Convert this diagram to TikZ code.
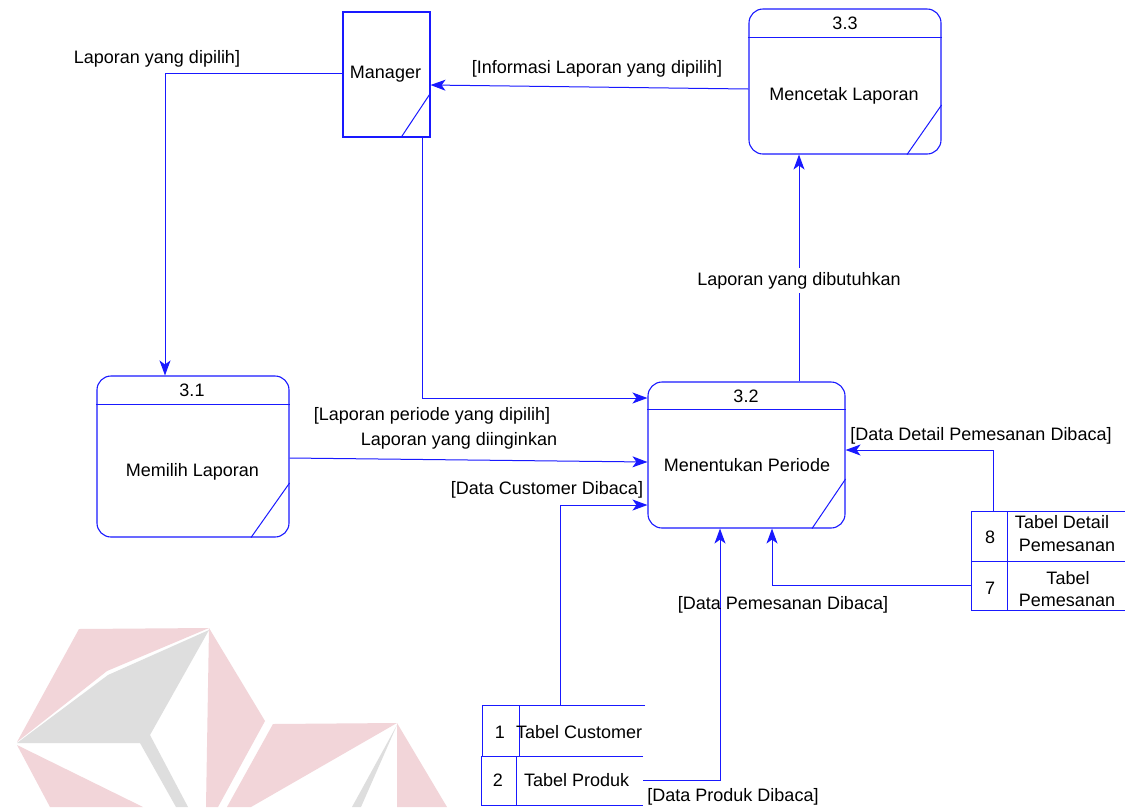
\documentclass[tikz,border=0pt]{standalone}
\usepackage{fontspec}
\setmainfont{Liberation Sans}
\usetikzlibrary{arrows.meta,calc}
\definecolor{dfd}{RGB}{25,25,255}
\definecolor{wmpink}{RGB}{242,213,217}
\definecolor{wmgray}{RGB}{222,222,222}
\begin{document}
\begin{tikzpicture}[x=1pt,y=-1pt,
  font=\fontsize{18}{21}\selectfont,
  wire/.style={draw=dfd,line width=1pt},
  arr/.style={wire,-{Stealth[length=15pt,width=11pt,inset=4pt]}},
  proc/.style={draw=dfd,line width=1.1pt,rounded corners=14pt,inner sep=0pt},
  ent/.style={draw=dfd,line width=1.1pt,inner sep=0pt},
  store/.style={inner sep=0pt},
  lbl/.style={inner sep=0pt,anchor=base,text=black}]
\useasboundingbox[fill=white] (0,0) rectangle (1125,807);
% watermark
\fill[wmpink] (79,629) -- (209,628) -- (107,671) -- (17,742) -- cycle;
\fill[wmgray] (17,743) -- (108,675) -- (209,630) -- (150,735) -- (188,807) -- (176,807) -- (140,743) -- cycle;
\fill[wmpink] (17,745) -- (143,807) -- (50,807) -- cycle;
\fill[wmpink] (209,628) -- (265,721) -- (218,807) -- (206,807) -- cycle;
\fill[wmpink] (273,724) -- (397,723) -- (251,807) -- (227,807) -- cycle;
\fill[wmgray] (397,725) -- (352,807) -- (361,807) -- cycle;
\fill[wmpink] (397,723) -- (447,807) -- (397,807) -- cycle;
% entity
\node[ent,minimum width=87pt,minimum height=125pt] (mgr) at (386.5,74.5) {};
\draw[wire] (mgr.north east |- 0,14) ++(-1.5,0) -- ++(0,122);
\draw[wire] (mgr.east |- 0,93) -- (mgr.south -| 401,0);
% processes
\node[proc,minimum width=192pt,minimum height=161pt] (p31) at (193,456.5) {};
\draw[wire] (p31.west |- 0,404) -- (p31.east |- 0,404);
\draw[wire] (p31.east |- 0,483) -- (p31.south -| 251,0);
\node[proc,minimum width=197pt,minimum height=146pt] (p32) at (746.5,455) {};
\draw[wire] (p32.west |- 0,409) -- (p32.east |- 0,409);
\draw[wire] (p32.east |- 0,479) -- (p32.south -| 812,0);
\node[proc,minimum width=192pt,minimum height=145pt] (p33) at (845,81.5) {};
\draw[wire] (p33.west |- 0,37) -- (p33.east |- 0,37);
\draw[wire] (p33.east |- 0,105) -- (p33.south -| 907,0);
% stores
\node[store,minimum width=153pt,minimum height=49pt] (s8) at (1048.5,536.5) {};
\node[store,minimum width=153pt,minimum height=49pt] (s7) at (1048.5,585.5) {};
\draw[wire] (s8.north east) -- (s8.north west) -- (s7.south west) -- (s7.south east);
\draw[wire] (s8.south west) -- (s8.south east);
\draw[wire] (s8.north west -| 1007,0) -- (s7.south west -| 1007,0);
\node[store,minimum width=162pt,minimum height=51pt] (s1) at (564,731.5) {};
\node[store,minimum width=161pt,minimum height=48pt] (s2) at (562.5,781) {};
\draw[wire] (s1.north east) -- (s1.north west) -- (s1.south west);
\draw[wire] (s2.north east) -- (s2.north west) -- (s2.south west) -- (s2.south east);
\draw[wire] (s1.north west -| 519,0) -- (s1.south west -| 519,0);
\draw[wire] (s2.north west -| 516,0) -- (s2.south west -| 516,0);
% texts in shapes
\node[lbl] (lmgr) at (385.5,78) {Manager};
\node[lbl] (l33n) at (845,29) {3.3};
\node[lbl] (l33) at (844,100) {Mencetak Laporan};
\node[lbl] (l31n) at (192,396) {3.1};
\node[lbl] (l31) at (192.5,476) {Memilih Laporan};
\node[lbl] (l32n) at (746,402) {3.2};
\node[lbl] (l32) at (747,471.5) {Menentukan Periode};
\node[lbl] (t1n) at (500,738) {1};
\node[lbl,anchor=base west] (t1) at (516,738) {Tabel Customer};
\node[lbl] (t2n) at (498,786) {2};
\node[lbl,anchor=base west] (t2) at (524,786) {Tabel Produk};
\node[lbl] (t8n) at (990,543) {8};
\node[lbl] (t8a) at (1062,528) {Tabel Detail};
\node[lbl] (t8b) at (1067,551) {Pemesanan};
\node[lbl] (t7n) at (990,594) {7};
\node[lbl] (t7a) at (1068,584) {Tabel};
\node[lbl] (t7b) at (1067,606) {Pemesanan};
% connectors
\draw[arr] (mgr.west |- 0,73) -| (p31.north -| 165,0);
\draw[arr] (mgr.south -| 422,0) |- (p32.west |- 0,398);
\draw[arr] (p33.west |- 0,89) -- (mgr.east |- 0,85);
\draw[arr] (p31.east |- 0,458) -- (p32.west |- 0,462);
\draw[arr] (p32.north -| 799,0) -- (p33.south -| 799,0);
\draw[arr] (s8.north -| 993,0) |- (p32.east |- 0,450);
\draw[arr] (s7.west) -| (p32.south -| 772,0);
\draw[arr] (s1.north -| 560,0) |- (p32.west |- 0,505);
\draw[arr] (s2.east |- 0,780) -| (p32.south -| 720,0);
% flow labels
\node[lbl] (fl1) at (157,63) {Laporan yang dipilih]};
\node[lbl] (fl2) at (597,73) {[Informasi Laporan yang dipilih]};
\node[lbl] (fl3) at (432,420) {[Laporan periode yang dipilih]};
\node[lbl] (fl4) at (459,445) {Laporan yang diinginkan};
\node[lbl] (fl5) at (547,494) {[Data Customer Dibaca]};
\node[lbl,fill=white,inner ysep=4pt,inner xsep=0pt] (fl6) at (799,285) {Laporan yang dibutuhkan};
\node[lbl] (fl7) at (981,440) {[Data Detail Pemesanan Dibaca]};
\node[lbl] (fl8) at (783,609) {[Data Pemesanan Dibaca]};
\node[lbl] (fl9) at (733,801) {[Data Produk Dibaca]};
\end{tikzpicture}
\end{document}
